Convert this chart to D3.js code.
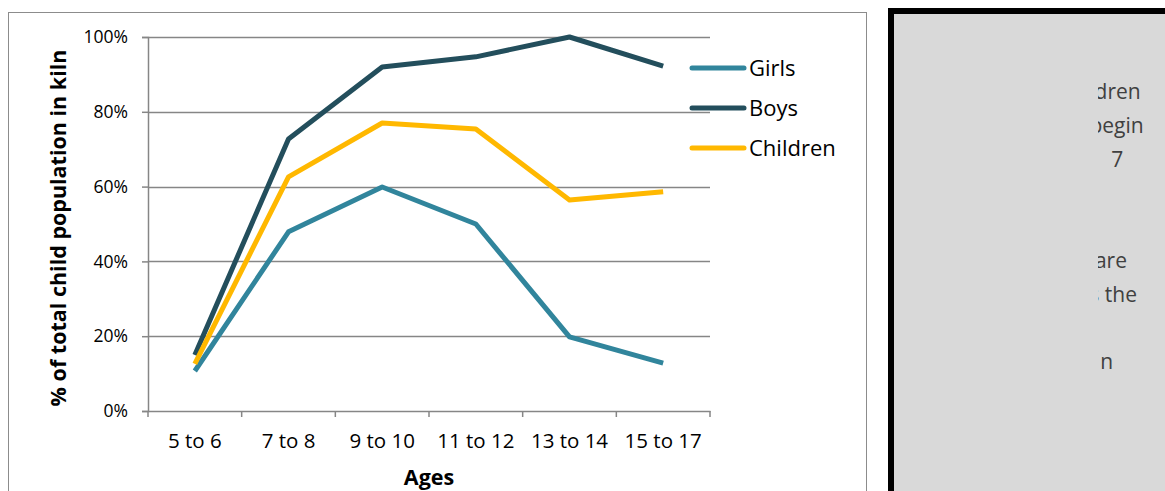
<!DOCTYPE html>
<html>
<head>
<meta charset="utf-8">
<script src="https://cdn.jsdelivr.net/npm/d3@7"></script>
<style>
  body { margin: 0; background: #fff; }
  svg text { font-family: "Open Sans", Lato, sans-serif; fill: #000; }
</style>
</head>
<body>
<svg id="chart" width="1165" height="491"></svg>
<script>
(function() {

	// DATA
	var ages = ['5 to 6', '7 to 8', '9 to 10', '11 to 12', '13 to 14', '15 to 17'];
	var girls = [0.107, 0.479, 0.599, 0.500, 0.198, 0.128];
	var boys = [0.150, 0.727, 0.920, 0.947, 1.000, 0.922];
	var children = [0.126, 0.626, 0.770, 0.754, 0.564, 0.586];
	var yTicks = [0, 0.2, 0.4, 0.6, 0.8, 1];
	var seriesNames = ['Girls', 'Boys', 'Children'];
	// side note, mostly hidden behind the right edge (nbsp = indent)
	var nb = '\u00a0';
	var sideText = ['ildren', nb + 'begin', nb + nb + nb + nb + nb + '7', '', '',
		nb + nb + 'are', 'is the', '', nb + nb + nb + 'n'];

	var colors = { Girls: '#31859C', Boys: '#234E5C', Children: '#FFB800' };
	var series = [
		{ name: 'Girls', values: girls },
		{ name: 'Boys', values: boys },
		{ name: 'Children', values: children }
	];

	var margin = { top: 37, left: 148, right: 455, bottom: 80 };
	var W = 1165, H = 491;
	var width = W - margin.left - margin.right;
	var height = H - margin.top - margin.bottom;

	var svg = d3.select('#chart');

	// outer chart border
	svg.append('rect')
		.attr('x', 8.5).attr('y', 12.5)
		.attr('width', 858).attr('height', 490)
		.attr('fill', '#fff')
		.attr('stroke', '#8c8c8c');

	var g = svg.append('g')
		.attr('transform', 'translate(' + margin.left + ',' + margin.top + ')');

	var x = d3.scaleBand().domain(ages).range([0, width]);
	var y = d3.scaleLinear().domain([0, 1]).range([height, 0]);

	// gridlines
	g.selectAll('.grid')
		.data(yTicks.filter(function(d) { return d > 0; }))
		.enter().append('line')
		.attr('class', 'grid')
		.attr('x1', 0).attr('x2', width)
		.attr('y1', function(d) { return Math.round(y(d)) + 0.5; })
		.attr('y2', function(d) { return Math.round(y(d)) + 0.5; })
		.attr('stroke', '#868686')
		.attr('stroke-width', 1.5);

	// y axis
	var axisY = d3.axisLeft(y).tickValues(yTicks).tickFormat(d3.format('.0%')).tickSize(6).tickPadding(14);
	g.append('g').attr('class', 'axis axis--y').call(axisY);

	// x axis, ticks sit on the category boundaries
	var axisX = d3.axisBottom(x).tickSize(0).tickPadding(22);
	var gx = g.append('g').attr('class', 'axis axis--x')
		.attr('transform', 'translate(0,' + height + ')')
		.call(axisX);
	var bounds = ages.map(function(a) { return x(a); }).concat([width]);
	gx.selectAll('.bound')
		.data(bounds)
		.enter().append('line')
		.attr('class', 'bound')
		.attr('x1', function(d) { return d; }).attr('x2', function(d) { return d; })
		.attr('y1', 0).attr('y2', 6)
		.attr('stroke', '#868686').attr('stroke-width', 1.5);

	svg.selectAll('.axis .domain').attr('stroke', '#868686').attr('stroke-width', 1.5);
	svg.selectAll('.axis .tick line').attr('stroke', '#868686').attr('stroke-width', 1.5);
	svg.selectAll('.axis--y text').style('font-size', '17.5px').attr('fill', '#000');
	svg.selectAll('.axis--x text').style('font-size', '20.5px').attr('fill', '#000');

	// lines
	var line = d3.line()
		.x(function(d, i) { return x(ages[i]) + x.bandwidth() / 2; })
		.y(function(d) { return y(d); });

	g.selectAll('.series')
		.data(series)
		.enter().append('path')
		.attr('class', 'series')
		.attr('d', function(d) { return line(d.values); })
		.attr('fill', 'none')
		.attr('stroke', function(d) { return colors[d.name]; })
		.attr('stroke-width', 5)
		.attr('stroke-linejoin', 'round')
		.attr('stroke-linecap', 'butt');

	// legend
	var legend = svg.append('g').attr('transform', 'translate(692,68)');
	var item = legend.selectAll('.item')
		.data(seriesNames)
		.enter().append('g')
		.attr('transform', function(d, i) { return 'translate(0,' + (i * 40) + ')'; });
	item.append('line')
		.attr('x1', 0).attr('x2', 52).attr('y1', 0).attr('y2', 0)
		.attr('stroke', function(d) { return colors[d]; })
		.attr('stroke-width', 5)
		.attr('stroke-linecap', 'round');
	item.append('text')
		.attr('x', 57).attr('y', 7.5)
		.style('font-size', '22px')
		.text(function(d) { return d; });

	// axis titles
	svg.append('text')
		.attr('text-anchor', 'middle')
		.attr('transform', 'translate(66,228)rotate(-90)')
		.style('font-size', '21.5px').style('font-weight', 'bold')
		.text('% of total child population in kiln');

	svg.append('text')
		.attr('x', 429).attr('y', 485)
		.attr('text-anchor', 'middle')
		.style('font-size', '21.5px').style('font-weight', 'bold')
		.text('Ages');

	// side text box
	svg.append('defs').append('clipPath').attr('id', 'sideclip')
		.append('rect').attr('x', 1098).attr('y', 0).attr('width', 80).attr('height', 491);

	svg.append('rect')
		.attr('x', 891).attr('y', 11)
		.attr('width', 290).attr('height', 500)
		.attr('fill', '#d9d9d9')
		.attr('stroke', '#000').attr('stroke-width', 6);

	svg.append('g').attr('clip-path', 'url(#sideclip)')
		.selectAll('text')
		.data(sideText)
		.enter().append('text')
		.attr('x', 1084)
		.attr('y', function(d, i) { return 99 + i * 33.8; })
		.style('font-size', '21px')
		.style('fill', '#404040')
		.text(function(d) { return d; });

})();
</script>
</body>
</html>
